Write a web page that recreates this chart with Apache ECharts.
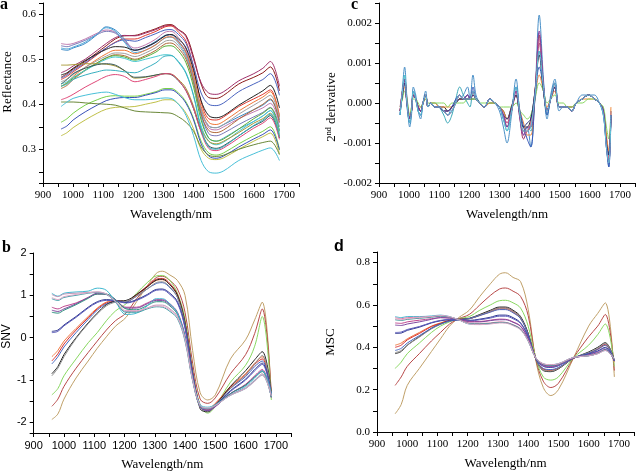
<!DOCTYPE html>
<html>
<head>
<meta charset="utf-8">
<script src="https://cdn.jsdelivr.net/npm/echarts@6/dist/echarts.min.js"></script>
<style>
  html, body { margin: 0; padding: 0; background: #fff; }
  #chart { width: 638px; height: 474px; }
</style>
</head>
<body>
<div id="chart"></div>
<script>
// wavelength grid (nm) for raw / SNV / MSC spectra
const wavelengths = [960, 980, 1000, 1040, 1080, 1110, 1140, 1170, 1205, 1240, 1275, 1305, 1325, 1350, 1375, 1400, 1425, 1450, 1475, 1500, 1550, 1600, 1630, 1655, 1685]
// wavelength grid (nm) for the 2nd derivative spectra
const wavelengths2nd = [970, 978, 985, 993, 1002, 1008, 1014, 1022, 1030, 1038, 1046, 1055, 1063, 1072, 1085, 1100, 1115, 1128, 1142, 1155, 1168, 1180, 1194, 1202, 1212, 1222, 1235, 1250, 1268, 1285, 1300, 1313, 1325, 1340, 1355, 1368, 1380, 1392, 1404, 1418, 1432, 1446, 1458, 1470, 1484, 1498, 1512, 1525, 1540, 1555, 1575, 1596, 1615, 1632, 1645, 1655, 1663, 1670]

// a: reflectance
const reflectance = [
  [.460, .468, .478, .495, .515, .530, .545, .552, .553, .560, .568, .576, .577, .566, .553, .505, .445, .415, .413, .420, .445, .460, .470, .483, .430],
  [.470, .476, .485, .500, .520, .535, .548, .553, .552, .558, .566, .574, .575, .565, .550, .500, .448, .425, .422, .428, .452, .468, .480, .495, .440],
  [.455, .462, .472, .490, .510, .525, .538, .545, .545, .553, .562, .572, .574, .560, .540, .480, .405, .368, .365, .372, .395, .412, .422, .432, .372],
  [.458, .465, .475, .492, .512, .525, .537, .543, .540, .548, .557, .565, .566, .555, .535, .485, .425, .400, .397, .403, .428, .445, .455, .468, .420],
  [.522, .520, .525, .535, .555, .572, .565, .545, .520, .527, .540, .553, .555, .540, .515, .455, .385, .352, .348, .355, .372, .388, .398, .410, .365],
  [.535, .533, .535, .545, .558, .565, .560, .542, .525, .532, .545, .560, .562, .548, .522, .462, .390, .348, .343, .350, .368, .383, .392, .402, .358],
  [.530, .528, .532, .542, .555, .562, .558, .540, .520, .525, .538, .552, .554, .540, .515, .455, .380, .335, .330, .336, .355, .372, .382, .393, .350],
  [.525, .523, .527, .538, .556, .570, .562, .538, .515, .520, .533, .547, .549, .535, .508, .448, .372, .325, .318, .325, .345, .362, .374, .386, .342],
  [.465, .470, .480, .497, .512, .522, .528, .527, .520, .527, .538, .552, .555, .545, .525, .475, .408, .375, .370, .375, .398, .418, .430, .442, .392],
  [.440, .448, .462, .482, .500, .512, .520, .520, .512, .520, .532, .548, .550, .538, .515, .465, .395, .360, .355, .362, .385, .405, .416, .428, .375],
  [.450, .456, .466, .482, .497, .507, .514, .513, .506, .514, .526, .540, .542, .530, .505, .455, .388, .352, .348, .355, .378, .398, .410, .420, .368],
  [.435, .442, .455, .475, .492, .503, .510, .508, .500, .508, .520, .534, .536, .524, .500, .448, .378, .342, .337, .343, .367, .388, .400, .412, .360],
  [.440, .447, .458, .476, .492, .503, .508, .505, .498, .505, .516, .529, .530, .518, .492, .438, .365, .325, .318, .323, .345, .368, .380, .392, .340],
  [.445, .450, .460, .475, .490, .500, .505, .502, .495, .500, .506, .510, .509, .495, .470, .420, .352, .318, .310, .316, .340, .362, .374, .386, .335],
  [.487, .487, .488, .490, .490, .489, .485, .475, .458, .460, .465, .468, .467, .455, .435, .395, .345, .318, .312, .318, .337, .358, .368, .380, .330],
  [.445, .455, .468, .480, .488, .490, .487, .475, .460, .461, .465, .468, .466, .452, .430, .390, .340, .308, .302, .308, .330, .352, .362, .375, .325],
  [.410, .415, .422, .438, .452, .462, .466, .462, .450, .455, .462, .468, .467, .453, .430, .390, .338, .302, .297, .303, .325, .347, .358, .370, .322],
  [.440, .445, .455, .465, .472, .476, .475, .472, .470, .480, .492, .507, .508, .493, .468, .418, .345, .305, .300, .306, .330, .353, .365, .378, .328],
  [.360, .368, .380, .398, .410, .417, .419, .418, .418, .422, .428, .435, .435, .425, .405, .368, .318, .292, .287, .292, .312, .330, .340, .350, .300],
  [.345, .352, .365, .383, .398, .408, .413, .415, .415, .420, .426, .432, .432, .422, .402, .365, .312, .285, .280, .285, .305, .323, .333, .343, .298],
  [.330, .337, .348, .365, .380, .389, .393, .394, .395, .400, .405, .410, .410, .400, .380, .345, .300, .280, .277, .281, .300, .318, .328, .336, .290],
  [.405, .405, .405, .403, .401, .400, .398, .392, .385, .383, .382, .381, .380, .372, .360, .340, .305, .287, .284, .287, .300, .310, .315, .318, .288],
  [.395, .405, .413, .420, .425, .427, .422, .415, .410, .410, .412, .414, .413, .400, .375, .330, .275, .250, .247, .252, .275, .290, .298, .303, .275]
]
const reflectanceColors = ['#8b1a1a', '#a0306a', '#e03a30', '#4a64c0', '#3a8ac8', '#c07ab0', '#7a7ab8', '#50a8d8', '#222222', '#f07838', '#a0a0a0', '#b06a3a', '#58b038', '#48c8d0', '#a89838', '#385858', '#e04878', '#38b0c0', '#78d048', '#3850b8', '#c0c048', '#6a8838', '#48c0d8']

// c: 2nd derivative, in units of 1e-4
const derivative2nd = [
  [-3, 4, 9, 1, -6, -3, 4, 2, -2, -4, 0, 3, -1, 0, -1, -1, -2, -3, -1, 0, 1, 2, 4, 1, 7, 2, 0, -1, 1, 0, -2, -6, -10, -3, 6, -3, -8, -6, -11, 2, 22, 6, -4, 2, 6, -2, -1, -1, -2, 0, 2, 2, 2, 0, -3, -11, -16, -4],
  [-3, 3, 7, 0, -5, -2, 3, 1, -2, -3, 0, 2, -1, 0, 0, -1, -3, -5, -3, 1, 4, 2, 0, -1, 3, 1, 0, -1, 1, 0, -1, -4, -7, -2, 4, -3, -7, -6, -7, 2, 17, 4, -3, 1, 5, -1, -1, -1, -2, 0, 1, 2, 1, 0, -2, -10, -15, -3],
  [-2, 3, 6, 0, -4, -2, 2, 1, -1, -2, 0, 2, -1, 0, -1, -1, -2, -2, -1, 0, 1, 1, 1, 1, 2, 1, 0, -1, 1, 0, -1, -3, -6, -2, 2, -3, -7, -7, -5, 3, 17, 4, -2, 1, 4, -1, -1, -1, -2, 0, 1, 2, 1, 0, -2, -9, -14, -3],
  [-1, 3, 6, 1, -4, -2, 2, 1, -1, -2, 0, 2, -1, 0, -1, -1, -2, -3, -2, 0, 2, 1, 2, 1, 3, 1, 0, -1, 1, 0, -1, -3, -5, -1, 3, -4, -9, -7, -6, 2, 15, 4, -2, 1, 4, -1, -1, -1, -2, 0, 1, 2, 1, 0, -2, -10, -15, -2],
  [-2, 2, 5, 0, -4, -2, 2, 1, -1, -2, 0, 2, -1, 0, -1, -1, -1, -2, -1, 0, 1, 1, 1, 1, 1, 1, 0, -1, 0, 0, -1, -2, -4, -1, 2, -3, -6, -6, -4, 3, 12, 3, -2, 1, 4, -1, -1, -1, -1, 0, 1, 2, 1, 0, -2, -9, -13, -3],
  [-2, 2, 4, 0, -3, -1, 2, 1, -1, -1, 0, 1, -1, 0, 0, -1, -1, -1, -1, 0, 1, 1, 1, 1, 2, 1, 0, -1, 0, 0, -1, -2, -4, -1, 2, -2, -5, -8, -8, 1, 7, 3, -1, 1, 3, -1, -1, -1, -1, 0, 1, 1, 1, 0, -2, -8, -12, -1],
  [-1, 1, 3, 1, -3, -1, 1, 1, 0, -1, 0, 1, 0, 0, 0, 0, 0, -1, 0, 0, 0, 0, 1, 1, 1, 1, 0, 0, 0, 0, -1, -1, -1, -1, 0, -2, -3, -4, -3, 1, 5, 3, 0, 1, 2, 0, 0, -1, -1, 0, 0, 1, 1, 0, -1, -6, -9, -2],
  [-3, 3, 6, -1, -5, -2, 3, 1, -2, -3, 0, 2, -1, 0, -1, -1, -2, -2, -1, 1, 2, 1, 2, 1, 4, 1, 0, -1, 1, 0, -1, -4, -6, -2, 4, -2, -6, -9, -11, 1, 9, 4, -3, 1, 5, -1, -1, -1, -2, 0, 1, 2, 1, 0, -3, -11, -16, -3],
  [-2, 3, 5, 0, -4, -2, 2, 1, -1, -2, 0, 2, -1, 0, -1, -1, -2, -2, -1, 0, 2, 1, 1, 1, 2, 1, 0, -1, 1, 0, -1, -3, -5, -2, 3, -3, -8, -7, -5, 3, 16, 4, -2, 1, 4, -1, -1, -1, -2, 0, 1, 2, 1, 0, -2, -10, -14, -2],
  [-2, 2, 5, 0, -4, -2, 2, 1, -1, -2, 0, 2, -1, 0, -1, -1, -2, -2, -1, 0, 1, 1, 1, 1, 2, 1, 0, -1, 1, 0, -1, -3, -4, -1, 2, -3, -6, -5, -4, 3, 13, 3, -2, 1, 4, -1, -1, -1, -2, 0, 1, 2, 1, 0, -2, -10, -13, -3],
  [-2, 3, 6, 0, -4, -2, 2, 1, -1, -2, 0, 2, -1, 0, -1, -1, -2, -3, -2, 0, 2, 1, 2, 1, 3, 1, 0, -1, 1, 0, -1, -3, -6, -2, 3, -4, -8, -6, -6, 2, 18, 5, -2, 1, 5, -1, -1, -1, -2, 0, 1, 2, 1, 0, -2, -11, -15, -3],
  [-3, 3, 7, 0, -5, -2, 3, 1, -2, -3, 0, 2, -1, 0, -1, -1, -2, -3, -2, 0, 2, 1, 1, 1, 3, 1, 0, -1, 1, 0, -1, -4, -7, -2, 4, -3, -7, -7, -6, 2, 13, 4, -2, 1, 5, -1, -1, -1, -2, 0, 1, 2, 1, 0, -3, -11, -15, -3]
]
const derivativeColors = ['#4a90c8', '#3aa8b8', '#d84040', '#a03060', '#222222', '#f08838', '#88d860', '#3858b8', '#e07098', '#283080', '#8040a0', '#60c8d8']

// b: SNV
const snv = [
  [-1.93, -1.80, -1.45, -0.95, -0.55, -0.25, 0.02, 0.27, 0.48, 0.85, 1.22, 1.52, 1.57, 1.48, 1.35, 1.00, -0.30, -1.30, -1.47, -1.35, -0.50, -0.05, 0.42, 0.84, -1.40],
  [-1.62, -1.45, -1.15, -0.72, -0.35, -0.08, 0.18, 0.40, 0.58, 0.92, 1.20, 1.42, 1.45, 1.35, 1.15, 0.60, -0.60, -1.45, -1.55, -1.42, -0.85, -0.40, 0.10, 0.68, -1.35],
  [-1.35, -1.20, -0.90, -0.50, -0.12, 0.12, 0.40, 0.63, 0.80, 1.05, 1.30, 1.46, 1.47, 1.35, 1.05, 0.45, -0.75, -1.60, -1.78, -1.62, -1.05, -0.65, -0.20, 0.50, -1.47],
  [-0.45, -0.30, -0.08, 0.22, 0.50, 0.70, 0.84, 0.88, 0.85, 1.00, 1.20, 1.35, 1.37, 1.25, 1.00, 0.35, -0.80, -1.60, -1.68, -1.55, -1.15, -0.85, -0.60, -0.45, -1.35],
  [-0.55, -0.38, -0.15, 0.18, 0.47, 0.68, 0.82, 0.86, 0.86, 1.02, 1.22, 1.38, 1.40, 1.28, 1.02, 0.35, -0.80, -1.62, -1.70, -1.57, -1.18, -0.88, -0.63, -0.50, -1.40],
  [-0.62, -0.45, -0.22, 0.12, 0.43, 0.65, 0.80, 0.85, 0.85, 0.98, 1.15, 1.28, 1.30, 1.18, 0.95, 0.30, -0.82, -1.62, -1.70, -1.58, -1.20, -0.92, -0.68, -0.55, -1.38],
  [-0.85, -0.68, -0.40, 0.00, 0.35, 0.58, 0.78, 0.86, 0.88, 1.02, 1.20, 1.36, 1.38, 1.25, 1.00, 0.35, -0.85, -1.68, -1.75, -1.60, -1.15, -0.78, -0.52, -0.33, -1.30],
  [-0.90, -0.72, -0.45, -0.02, 0.33, 0.56, 0.75, 0.84, 0.86, 0.98, 1.15, 1.30, 1.32, 1.20, 0.95, 0.30, -0.85, -1.65, -1.72, -1.60, -1.20, -0.88, -0.62, -0.42, -1.33],
  [0.15, 0.18, 0.30, 0.50, 0.72, 0.85, 0.90, 0.88, 0.83, 0.90, 1.02, 1.14, 1.15, 1.05, 0.85, 0.25, -0.85, -1.62, -1.70, -1.60, -1.25, -0.98, -0.75, -0.60, -1.35],
  [0.12, 0.15, 0.28, 0.48, 0.70, 0.83, 0.88, 0.87, 0.82, 0.88, 1.00, 1.12, 1.13, 1.02, 0.82, 0.22, -0.88, -1.63, -1.72, -1.62, -1.27, -1.00, -0.78, -0.63, -1.37],
  [0.72, 0.68, 0.74, 0.82, 0.95, 1.03, 1.02, 0.90, 0.72, 0.72, 0.82, 0.90, 0.90, 0.80, 0.60, 0.05, -0.95, -1.62, -1.70, -1.62, -1.32, -1.10, -0.90, -0.75, -1.40],
  [0.65, 0.62, 0.68, 0.80, 0.95, 1.05, 1.03, 0.90, 0.70, 0.70, 0.80, 0.88, 0.88, 0.78, 0.58, 0.02, -0.98, -1.63, -1.72, -1.63, -1.32, -1.12, -0.92, -0.78, -1.42],
  [0.60, 0.58, 0.65, 0.78, 0.93, 1.03, 1.03, 0.90, 0.68, 0.66, 0.76, 0.85, 0.85, 0.75, 0.55, 0.00, -0.98, -1.60, -1.68, -1.60, -1.32, -1.12, -0.93, -0.80, -1.40],
  [1.05, 0.98, 1.05, 1.08, 1.10, 1.17, 1.12, 0.85, 0.55, 0.58, 0.75, 0.92, 0.92, 0.80, 0.58, 0.00, -0.98, -1.58, -1.64, -1.58, -1.35, -1.15, -0.95, -0.78, -1.32],
  [1.02, 0.97, 1.03, 1.05, 1.07, 1.08, 1.03, 0.85, 0.62, 0.62, 0.70, 0.77, 0.77, 0.68, 0.50, -0.05, -1.00, -1.62, -1.68, -1.60, -1.35, -1.18, -1.00, -0.85, -1.38],
  [0.92, 0.88, 0.95, 1.00, 1.05, 1.07, 1.02, 0.85, 0.60, 0.60, 0.68, 0.73, 0.72, 0.62, 0.45, -0.08, -1.02, -1.62, -1.67, -1.60, -1.36, -1.20, -1.02, -0.88, -1.40],
  [0.95, 0.90, 0.97, 1.02, 1.06, 1.08, 1.03, 0.86, 0.64, 0.64, 0.70, 0.75, 0.74, 0.65, 0.48, -0.05, -1.00, -1.60, -1.66, -1.60, -1.36, -1.20, -1.03, -0.88, -1.38]
]
const snvColors = ['#c0a068', '#b84848', '#88d860', '#f07840', '#d83030', '#4868c0', '#222222', '#909090', '#303890', '#5858b8', '#c04890', '#8048a0', '#309080', '#40b8d0', '#c098b8', '#40a0a8', '#e0a8c8']

// d: MSC
const msc = [
  [0.086, 0.13, 0.22, 0.30, 0.38, 0.44, 0.50, 0.54, 0.575, 0.64, 0.70, 0.745, 0.752, 0.73, 0.71, 0.58, 0.34, 0.21, 0.172, 0.20, 0.35, 0.50, 0.56, 0.61, 0.26],
  [0.22, 0.26, 0.31, 0.37, 0.43, 0.47, 0.51, 0.535, 0.555, 0.60, 0.645, 0.675, 0.68, 0.665, 0.64, 0.55, 0.345, 0.24, 0.21, 0.23, 0.35, 0.45, 0.50, 0.555, 0.29],
  [0.30, 0.33, 0.37, 0.42, 0.47, 0.50, 0.52, 0.535, 0.545, 0.575, 0.60, 0.62, 0.622, 0.61, 0.585, 0.50, 0.35, 0.26, 0.245, 0.26, 0.35, 0.41, 0.46, 0.51, 0.31],
  [0.41, 0.42, 0.44, 0.47, 0.50, 0.515, 0.528, 0.532, 0.535, 0.55, 0.567, 0.58, 0.58, 0.565, 0.535, 0.46, 0.345, 0.295, 0.29, 0.30, 0.348, 0.37, 0.39, 0.41, 0.33],
  [0.40, 0.41, 0.435, 0.465, 0.498, 0.513, 0.527, 0.532, 0.535, 0.552, 0.57, 0.585, 0.585, 0.57, 0.54, 0.465, 0.345, 0.298, 0.292, 0.302, 0.348, 0.372, 0.392, 0.415, 0.335],
  [0.37, 0.38, 0.41, 0.45, 0.49, 0.51, 0.525, 0.532, 0.537, 0.555, 0.575, 0.59, 0.59, 0.575, 0.545, 0.465, 0.345, 0.29, 0.285, 0.298, 0.348, 0.378, 0.40, 0.422, 0.34],
  [0.375, 0.385, 0.41, 0.448, 0.487, 0.508, 0.523, 0.53, 0.535, 0.552, 0.57, 0.585, 0.585, 0.57, 0.54, 0.46, 0.345, 0.292, 0.288, 0.30, 0.348, 0.375, 0.396, 0.418, 0.338],
  [0.385, 0.395, 0.42, 0.455, 0.49, 0.51, 0.524, 0.53, 0.535, 0.55, 0.566, 0.578, 0.578, 0.563, 0.535, 0.46, 0.347, 0.30, 0.295, 0.305, 0.35, 0.372, 0.39, 0.41, 0.335],
  [0.465, 0.467, 0.48, 0.495, 0.515, 0.525, 0.53, 0.53, 0.527, 0.533, 0.542, 0.552, 0.552, 0.54, 0.515, 0.45, 0.35, 0.31, 0.305, 0.313, 0.35, 0.368, 0.383, 0.40, 0.335],
  [0.47, 0.472, 0.484, 0.498, 0.517, 0.527, 0.531, 0.53, 0.525, 0.53, 0.538, 0.547, 0.547, 0.535, 0.512, 0.448, 0.35, 0.312, 0.307, 0.314, 0.35, 0.366, 0.38, 0.397, 0.335],
  [0.515, 0.513, 0.52, 0.528, 0.535, 0.54, 0.538, 0.532, 0.522, 0.522, 0.528, 0.533, 0.532, 0.52, 0.50, 0.44, 0.35, 0.315, 0.31, 0.317, 0.35, 0.363, 0.375, 0.39, 0.34],
  [0.505, 0.503, 0.51, 0.52, 0.532, 0.54, 0.538, 0.532, 0.52, 0.52, 0.526, 0.53, 0.53, 0.518, 0.498, 0.44, 0.35, 0.317, 0.312, 0.318, 0.35, 0.362, 0.373, 0.388, 0.34],
  [0.545, 0.54, 0.545, 0.545, 0.548, 0.552, 0.545, 0.53, 0.51, 0.508, 0.512, 0.518, 0.517, 0.505, 0.485, 0.43, 0.35, 0.322, 0.318, 0.323, 0.352, 0.36, 0.37, 0.385, 0.345],
  [0.54, 0.535, 0.54, 0.542, 0.545, 0.548, 0.543, 0.53, 0.515, 0.513, 0.515, 0.52, 0.518, 0.507, 0.487, 0.432, 0.35, 0.322, 0.317, 0.322, 0.352, 0.36, 0.37, 0.386, 0.343],
  [0.53, 0.527, 0.532, 0.537, 0.542, 0.547, 0.543, 0.53, 0.512, 0.51, 0.513, 0.517, 0.516, 0.505, 0.485, 0.43, 0.35, 0.32, 0.315, 0.32, 0.352, 0.36, 0.371, 0.388, 0.342],
  [0.535, 0.53, 0.535, 0.54, 0.545, 0.55, 0.545, 0.53, 0.51, 0.507, 0.51, 0.515, 0.514, 0.502, 0.482, 0.43, 0.35, 0.322, 0.318, 0.322, 0.352, 0.36, 0.37, 0.385, 0.345]
]
const mscColors = ['#c0a068', '#b84848', '#88d860', '#f07840', '#d83030', '#222222', '#909090', '#4868c0', '#303890', '#5858b8', '#c04890', '#8048a0', '#40b8d0', '#e080a8', '#309090', '#e0a8c8']

const SERIF = '"Liberation Serif", "Times New Roman", serif'
const SANS = '"Liberation Sans", Arial, sans-serif'

const chart = echarts.init(document.getElementById('chart'), null, { renderer: 'canvas' })

function lines(wl, rows, colors, idx) {
  return rows.map((row, j) => ({
    type: 'line',
    xAxisIndex: idx,
    yAxisIndex: idx,
    data: row.map((v, k) => [wl[k], v]),
    showSymbol: false,
    smooth: 0.35,
    silent: true,
    lineStyle: { width: 1, color: colors[j] }
  }))
}

function xAxis(idx, font) {
  return {
    gridIndex: idx, type: 'value', min: 900, max: 1750, interval: 50,
    name: 'Wavelength/nm', nameLocation: 'middle', nameGap: 25,
    nameTextStyle: { fontFamily: SERIF, fontSize: 13, color: '#000' },
    axisLine: { onZero: false, lineStyle: { color: '#000', width: 1 } },
    axisTick: { length: 4, lineStyle: { color: '#000' } },
    axisLabel: { margin: 7, color: '#000', fontFamily: font, fontSize: 11,
      formatter: v => (v % 100 === 0 ? String(v) : '') },
    splitLine: { show: false }
  }
}

function yAxis(idx, opts) {
  return Object.assign({
    gridIndex: idx, type: 'value', nameLocation: 'middle',
    axisLine: { show: true, onZero: false, lineStyle: { color: '#000', width: 1 } },
    axisTick: { show: true, length: 4, lineStyle: { color: '#000' } },
    splitLine: { show: false }
  }, opts)
}

const option = {
  animation: false,
  backgroundColor: '#fff',
  grid: [
    { left: 42, top: 3, width: 257, height: 180 },   // a
    { left: 379, top: 3, width: 258, height: 180 },  // c
    { left: 33, top: 253, width: 258, height: 180 }, // b
    { left: 377, top: 252, width: 257, height: 180 } // d
  ],
  xAxis: [xAxis(0, SERIF), xAxis(1, SERIF), xAxis(2, SANS), xAxis(3, SERIF)],
  yAxis: [
    yAxis(0, {
      min: 0.225, max: 0.625, splitNumber: 8,
      name: 'Reflectance', nameGap: 29,
      nameTextStyle: { fontFamily: SERIF, fontSize: 13, color: '#000', padding: [0, 0, 0, 22] },
      axisLabel: { margin: 7, color: '#000', fontFamily: SERIF, fontSize: 11,
        formatter: v => (Math.abs(v * 10 - Math.round(v * 10)) < 1e-6 ? v.toFixed(1) : '') }
    }),
    yAxis(1, {
      min: -20, max: 25, interval: 5,
      name: '2{sup|nd} derivative', nameGap: 41,
      nameTextStyle: { fontFamily: SERIF, fontSize: 13, color: '#000', padding: [0, 28, 0, 0],
        rich: { sup: { fontFamily: SERIF, fontSize: 8, verticalAlign: 'top', color: '#000' } } },
      axisLabel: { margin: 7, color: '#000', fontFamily: SERIF, fontSize: 11,
        formatter: v => (v % 10 === 0 ? (v / 1e4).toFixed(3) : '') }
    }),
    yAxis(2, {
      min: -2.25, max: 2, splitNumber: 9,
      name: 'SNV', nameGap: 20,
      nameTextStyle: { fontFamily: SANS, fontSize: 12, color: '#000', padding: [0, 0, 0, 13] },
      axisLabel: { margin: 7, color: '#000', fontFamily: SANS, fontSize: 11,
        formatter: v => (Number.isInteger(v) ? String(v) : '') }
    }),
    yAxis(3, {
      min: 0, max: 0.85, interval: 0.1,
      name: 'MSC', nameGap: 40,
      nameTextStyle: { fontFamily: SERIF, fontSize: 13, color: '#000' },
      axisLabel: { margin: 7, color: '#000', fontFamily: SERIF, fontSize: 11,
        formatter: v => (Math.abs(v * 5 - Math.round(v * 5)) < 1e-6 ? v.toFixed(1) : '') }
    })
  ],
  graphic: [
    { type: 'text', left: 0, top: -3, style: { text: 'a', font: 'bold 16px "Liberation Serif"', fill: '#000' } },
    { type: 'text', left: 351, top: -3, style: { text: 'c', font: 'bold 16px "Liberation Serif"', fill: '#000' } },
    { type: 'text', left: 2, top: 240, style: { text: 'b', font: 'bold 16px "Liberation Serif"', fill: '#000' } },
    { type: 'text', left: 334, top: 239, style: { text: 'd', font: 'bold 16px "Liberation Sans"', fill: '#000' } }
  ],
  series: [
    ...lines(wavelengths, reflectance, reflectanceColors, 0),
    ...lines(wavelengths2nd, derivative2nd, derivativeColors, 1),
    ...lines(wavelengths, snv, snvColors, 2),
    ...lines(wavelengths, msc, mscColors, 3)
  ]
}

chart.setOption(option)
</script>
</body>
</html>
